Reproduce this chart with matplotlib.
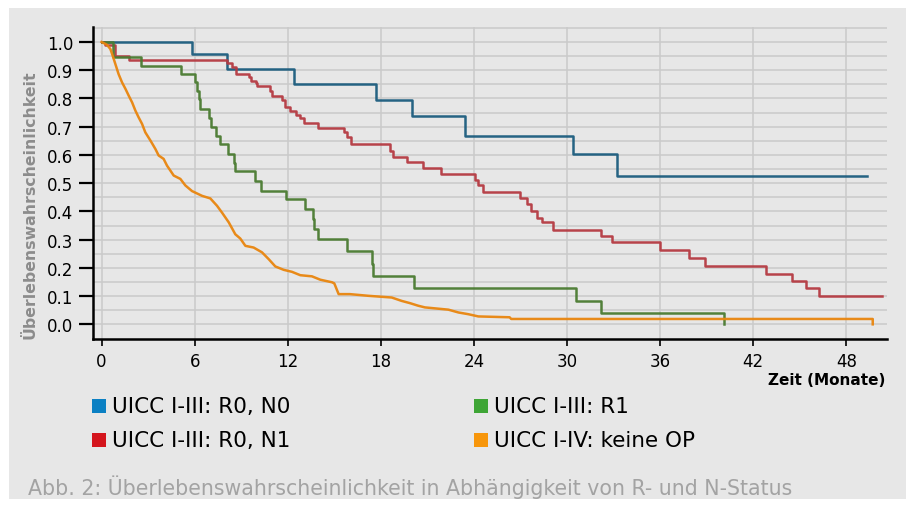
import matplotlib
matplotlib.use("Agg")
import matplotlib.pyplot as plt
from matplotlib import font_manager
from matplotlib.patches import Rectangle

# pick a narrow font if one is around
names = {f.name for f in font_manager.fontManager.ttflist}
if "Liberation Sans Narrow" in names:
    FONT = "Liberation Sans Narrow"
elif "DejaVu Sans Condensed" in names:
    FONT = "DejaVu Sans Condensed"
else:
    FONT = "DejaVu Sans"
plt.rcParams["font.family"] = [FONT, "DejaVu Sans"]

# Kaplan-Meier curves (months, survival)
n0_t = [0, 5.8, 8.1, 12.4, 17.7, 20.0, 23.4, 30.4, 33.2, 49.3]
n0_s = [1.0, 0.957, 0.903, 0.85, 0.796, 0.737, 0.668, 0.602, 0.526, 0.526]

n1_t = [0, 0.25, 0.85, 1.75, 8.09, 8.41, 8.67, 9.48, 9.65, 9.95, 10.04, 10.88, 11.0,
        11.63, 11.85, 12.12, 12.53, 12.81, 13.03, 13.95, 15.6, 15.82, 16.1, 18.6, 18.8,
        19.67, 20.7, 21.85, 24.07, 24.25, 24.56, 26.95, 27.4, 27.7, 28.04, 28.4, 29.1,
        32.2, 32.9, 36.0, 37.85, 38.9, 42.8, 44.47, 45.4, 46.25, 50.3]
n1_s = [1.0, 0.988, 0.951, 0.936, 0.924, 0.913, 0.886, 0.875, 0.863, 0.854, 0.844, 0.828, 0.807,
        0.795, 0.771, 0.755, 0.743, 0.731, 0.712, 0.696, 0.680, 0.663, 0.637, 0.615, 0.594,
        0.574, 0.554, 0.533, 0.51, 0.493, 0.469, 0.449, 0.426, 0.402, 0.378, 0.361, 0.335,
        0.313, 0.290, 0.264, 0.234, 0.206, 0.180, 0.154, 0.128, 0.101, 0.101]

r1_t = [0, 0.72, 2.57, 5.14, 6.05, 6.17, 6.26, 6.37, 6.95, 7.07, 7.38, 7.66, 8.15, 8.52,
        8.62, 9.91, 10.3, 11.9, 13.09, 13.6, 13.7, 13.95, 15.8, 17.4, 17.5, 20.15, 30.57,
        32.2, 40.1]
r1_s = [1.0, 0.948, 0.916, 0.886, 0.857, 0.828, 0.798, 0.763, 0.731, 0.700, 0.668, 0.637,
        0.603, 0.571, 0.542, 0.507, 0.473, 0.443, 0.408, 0.372, 0.337, 0.304, 0.260, 0.213,
        0.172, 0.128, 0.083, 0.039, 0.0]

# the no-surgery group has many tiny steps, so it is traced as a polyline
op_t = [0, 0.35, 0.57, 0.72, 0.89, 1.1, 1.32, 1.54, 1.75, 1.97, 2.18, 2.39, 2.61, 2.82,
        3.15, 3.47, 3.68, 4.0, 4.22, 4.43, 4.65, 5.08, 5.4, 5.83, 6.48, 7.01, 7.44, 7.76,
        8.2, 8.62, 8.94, 9.27, 9.8, 10.34, 10.77, 11.2, 11.74, 12.27, 12.81, 13.56, 14.1,
        14.85, 15.0, 15.28, 16.0, 17.2, 18.7, 19.34, 19.88, 20.4, 20.84, 22.35, 23.0, 23.63,
        24.28, 26.3, 26.4, 49.7, 49.7]
op_s = [1.0, 0.99, 0.975, 0.951, 0.922, 0.886, 0.857, 0.834, 0.81, 0.786, 0.757, 0.733,
        0.71, 0.68, 0.651, 0.621, 0.598, 0.586, 0.562, 0.545, 0.527, 0.515, 0.492, 0.472,
        0.455, 0.446, 0.42, 0.396, 0.361, 0.319, 0.304, 0.278, 0.272, 0.255, 0.231, 0.205,
        0.193, 0.186, 0.174, 0.17, 0.158, 0.149, 0.145, 0.107, 0.107, 0.101, 0.095, 0.083,
        0.075, 0.066, 0.06, 0.052, 0.042, 0.036, 0.028, 0.025, 0.019, 0.019, 0.0]

labels = ["UICC I-III: R0, N0", "UICC I-III: R0, N1", "UICC I-III: R1", "UICC I-IV: keine OP"]
line_cols = ["#1b5c7e", "#b53a42", "#4a7b31", "#e9850e"]
box_cols = ["#0b80c3", "#d4151d", "#3ea535", "#f7960b"]

xticks = [0, 6, 12, 18, 24, 30, 36, 42, 48]
yticks = [0.0, 0.1, 0.2, 0.3, 0.4, 0.5, 0.6, 0.7, 0.8, 0.9, 1.0]

W, H = 909, 506
BG = "#e7e7e7"
fig = plt.figure(figsize=(W / 100, H / 100), dpi=100, facecolor="white")
fig.add_artist(Rectangle((9 / W, 1 - 500 / H), 897 / W, 491 / H, transform=fig.transFigure,
                         facecolor=BG, edgecolor="none", zorder=-10))

ax = fig.add_axes([92.7 / W, 1 - 340.3 / H, 794 / W, 312 / H])
ax.set_facecolor(BG)

for t, s, c in zip([n0_t, n1_t, r1_t], [n0_s, n1_s, r1_s], line_cols[:3]):
    ax.step(t, s, where="post", color=c, lw=1.8, alpha=0.95, zorder=3)
ax.plot(op_t, op_s, color=line_cols[3], lw=1.8, alpha=0.95, zorder=3)

ax.set_xlim(-0.57, 50.6)
ax.set_ylim(-0.053, 1.052)
ax.set_xticks(xticks)
ax.set_xticklabels([str(v) for v in xticks])
ax.set_yticks(yticks)
ax.set_yticklabels([f"{v:.1f}" for v in yticks])
ax.set_yticks([i * 0.05 for i in range(22)], minor=True)
ax.grid(True, which="both", axis="y", color="#cacaca", lw=1.1, zorder=0)
ax.grid(True, which="major", axis="x", color="#cacaca", lw=1.1, zorder=0)
ax.tick_params(axis="y", which="minor", length=0)
ax.tick_params(axis="y", which="major", length=10, width=1.6, pad=4, labelsize=12)
ax.tick_params(axis="x", length=5, width=1.2, pad=4, labelsize=12)
for side in ["top", "right"]:
    ax.spines[side].set_visible(False)
for side in ["left", "bottom"]:
    ax.spines[side].set_linewidth(1.8)

fig.text(885 / W, 1 - 381 / H, "Zeit (Monate)", ha="right", va="center",
         fontsize=11, fontweight="bold")
fig.text(30 / W, 1 - 205 / H, "Überlebenswahrscheinlichkeit", rotation=90, ha="center",
         va="center", fontsize=11.3, fontweight="bold", color="#8c8c8c")

# legend: two columns of colour squares
pos = [(92, 407), (92, 441), (474, 407), (474, 441)]
for (x, y), lab, c in zip(pos, labels, box_cols):
    fig.add_artist(Rectangle((x / W, 1 - (y + 7) / H), 14 / W, 14 / H,
                             transform=fig.transFigure, facecolor=c, edgecolor="none"))
    fig.text((x + 20) / W, 1 - y / H, lab, ha="left", va="center", fontsize=15.5)

fig.text(28 / W, 1 - 487 / H,
         "Abb. 2: Überlebenswahrscheinlichkeit in Abhängigkeit von R- und N-Status",
         ha="left", va="center", fontsize=14.8, color="#a3a3a3")

fig.savefig("out.png", dpi=100, facecolor="white")
